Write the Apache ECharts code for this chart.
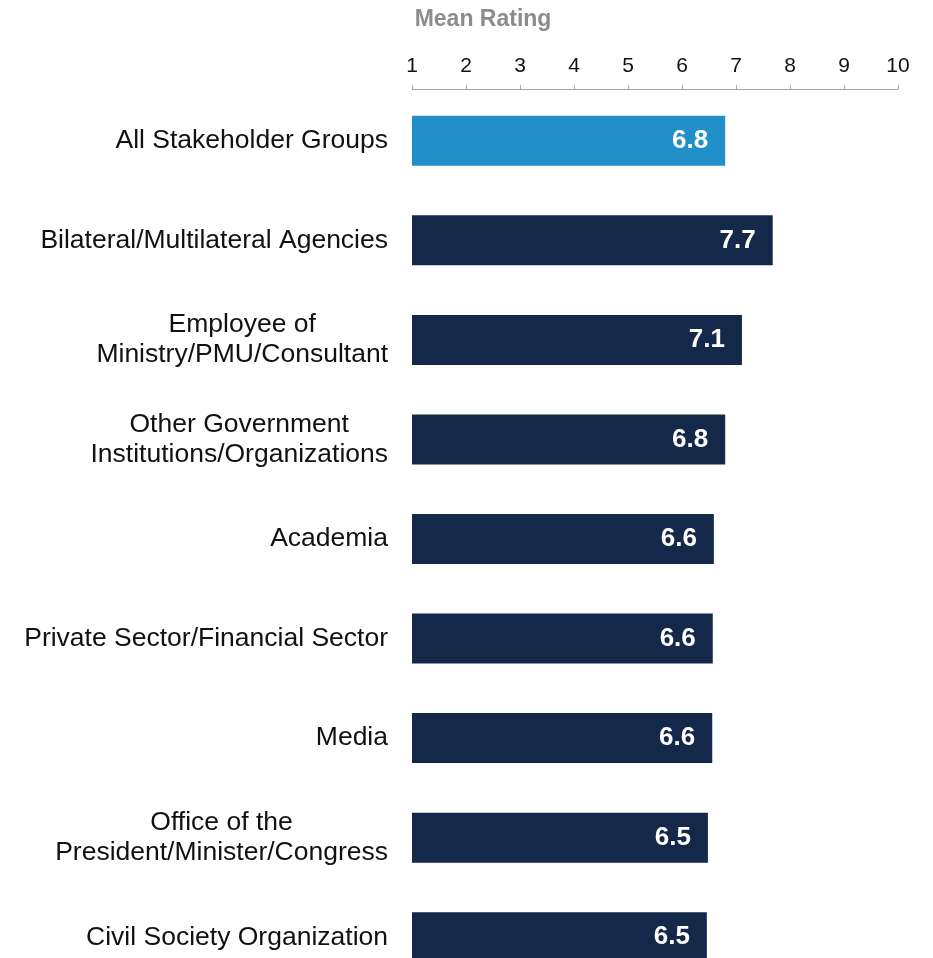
<!DOCTYPE html>
<html>
<head>
<meta charset="utf-8">
<title>Mean Rating</title>
<script src="https://cdn.jsdelivr.net/npm/echarts@6/dist/echarts.min.js"></script>
<style>
  html, body { margin: 0; padding: 0; background: #fff; }
  #chart { width: 933px; height: 958px; }
</style>
</head>
<body>
<div id="chart"></div>
<script>
var groups = [
  'All Stakeholder Groups',
  'Bilateral/Multilateral Agencies',
  'Employee of\nMinistry/PMU/Consultant',
  'Other Government\nInstitutions/Organizations',
  'Academia',
  'Private Sector/Financial Sector',
  'Media',
  'Office of the\nPresident/Minister/Congress',
  'Civil Society Organization'
];
var ratings = [6.80, 7.68, 7.11, 6.80, 6.59, 6.57, 6.56, 6.48, 6.46];
var ratingLabels = ['6.8', '7.7', '7.1', '6.8', '6.6', '6.6', '6.6', '6.5', '6.5'];

var chart = echarts.init(document.getElementById('chart'));
var font = '"Liberation Sans", Arial, sans-serif';

var option = {
  animation: false,
  title: {
    text: 'Mean Rating',
    left: 478,
    textAlign: 'center',
    top: 3,
    textStyle: { fontFamily: font, fontSize: 23, fontWeight: 'bold', color: '#8c8c8c' }
  },
  // last row runs past the bottom edge, like the reference
  grid: { left: 412, right: 35, top: 91, height: 896, outerBoundsMode: 'none' },
  xAxis: {
    type: 'value',
    position: 'top',
    offset: 2,
    min: 1,
    max: 10,
    interval: 1,
    axisLine: { show: true, lineStyle: { color: '#a6a6a6', width: 1 } },
    axisTick: { show: true, length: 4, lineStyle: { color: '#a6a6a6' } },
    axisLabel: { fontFamily: font, fontSize: 21, color: '#111', margin: 12 },
    splitLine: { show: false }
  },
  yAxis: {
    type: 'category',
    inverse: true,
    data: groups,
    axisLine: { show: false },
    axisTick: { show: false },
    axisLabel: {
      margin: 24,
      align: 'right',
      formatter: function (v) {
        return v.split('\n').map(function (s) { return '{c|' + s + '}'; }).join('\n');
      },
      rich: {
        c: { fontFamily: font, fontSize: 26.5, color: '#111', lineHeight: 30, align: 'center' }
      }
    }
  },
  series: [{
    type: 'bar',
    barWidth: 50,
    data: ratings.map(function (v, i) {
      return {
        value: v,
        itemStyle: { color: i === 0 ? '#2190c8' : '#14284a' }
      };
    }),
    label: {
      show: true,
      position: 'insideRight',
      distance: 17,
      formatter: function (p) { return ratingLabels[p.dataIndex]; },
      fontFamily: font,
      fontSize: 26,
      fontWeight: 'bold',
      color: '#fff'
    }
  }]
};
chart.setOption(option);
</script>
</body>
</html>
